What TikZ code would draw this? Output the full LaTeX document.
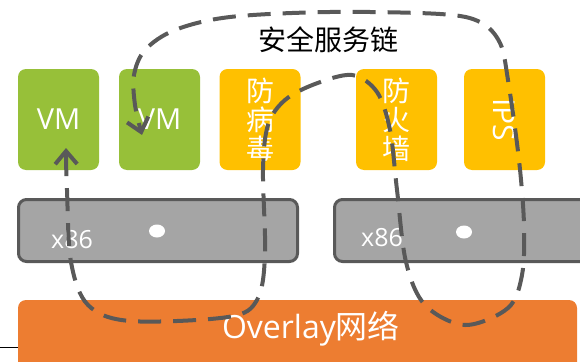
\documentclass[tikz,border=0pt]{standalone}
\usepackage{fontspec}
\setmainfont{Open Sans}
\newfontfamily\cjk{Noto Sans CJK SC}
\usepackage{tikz}
\usetikzlibrary{arrows.meta}
\usetikzlibrary{shapes.geometric}
\definecolor{vmgreen}{RGB}{151,192,57}
\definecolor{svcgold}{RGB}{255,192,0}
\definecolor{hostgray}{RGB}{165,165,165}
\definecolor{edgegray}{RGB}{89,89,89}
\definecolor{netorange}{RGB}{237,125,49}

\begin{document}
\begin{tikzpicture}[x=1pt,y=-1pt,
			vmbox/.style={fill=vmgreen, text=white, minimum width=81pt, minimum height=101pt, inner sep=0pt, rounded corners=8pt, font=\fontsize{29}{32}\selectfont},
			svcbox/.style={fill=svcgold, text=white, minimum width=81pt, minimum height=101pt, inner sep=0pt, rounded corners=8pt, align=center, font=\cjk\fontsize{28}{29}\selectfont},
			hostbox/.style={fill=hostgray, draw=edgegray, line width=3pt, minimum width=279pt, minimum height=62pt, rounded corners=8pt},
			hostdot/.style={ellipse, fill=white, minimum width=16pt, minimum height=13pt, inner sep=0pt},
			svcchain/.style={draw=edgegray, line width=4pt, dash pattern=on 23pt off 12pt, {Straight Barb[length=13pt,width=22pt]}-{Straight Barb[length=13pt,width=22pt]}}
		]
		\useasboundingbox (0,0) rectangle (580,361);

		\node[font=\cjk\fontsize{28}{30}\selectfont] (title) at (328,40) {安全服务链};

		\node[vmbox] (vm1) at (58.5,119.5) {VM};
		\node[vmbox] (vm2) at (159.5,119.5) {VM};
		\node[svcbox] (av) at (260,119.5) {防\\病\\毒};
		\node[svcbox] (fw) at (396.5,119.5) {防\\火\\墙};
		\node[svcbox, rotate=-90, minimum width=101pt, minimum height=81pt, font=\fontsize{30}{32}\selectfont] (ips) at (504.5,119.5) {IPS};

		\node[hostbox] (host1) at (158,230.5) {};
		\node[hostbox, minimum width=259pt] (host2) at (464,230.5) {};
		\node[text=white, font=\fontsize{25}{28}\selectfont] (x1) at (72,240) {x86};
		\node[text=white, font=\fontsize{25}{28}\selectfont] (x2) at (382,238) {x86};
		\node[hostdot] (dot1) at (157,231) {};
		\node[hostdot] (dot2) at (464,232) {};

		\fill[netorange, rounded corners=8pt] (18,300) rectangle (577,390);
		\node[text=white, font=\fontsize{32}{34}\selectfont] (net) at (311,329) {Overlay{\cjk 网络}};
		\draw[black, line width=0.8pt] (0,347) -- (18,347);

		% service chain path
		\coordinate (vm1in) at (66,148);
		\coordinate (vm2in) at (142,135);
		\draw[svcchain] plot[smooth, tension=0.55] coordinates {(vm1in) (67,190) (71,262) (88,305) (130,321) (228,317) (257,300) (265,255) (263,170) (268,125) (285,100) (315,84) (352,75) (377,92) (390,130) (397,190) (406,262) (425,305) (465,325) (508,308) (522,275) (524,225) (519,160) (508,80) (500,43) (480,22) (440,14) (330,12) (230,17) (175,30) (145,50) (134,75) (135,105) (vm2in)};
	\end{tikzpicture}
\end{document}
